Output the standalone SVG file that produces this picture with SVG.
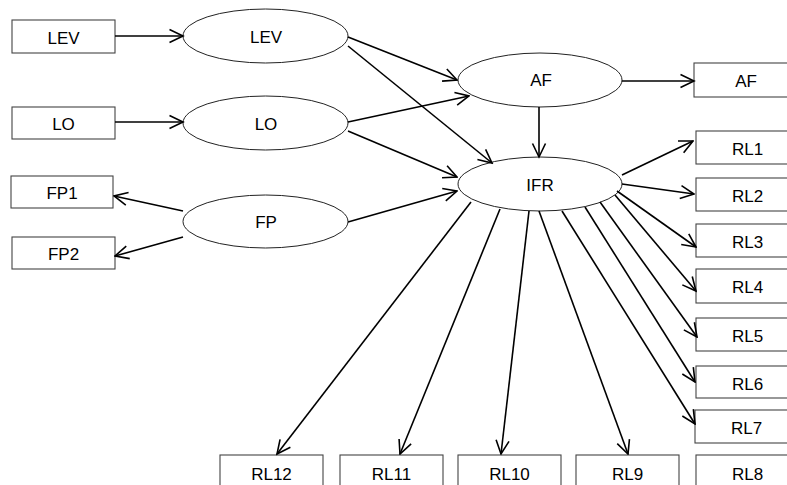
<svg xmlns="http://www.w3.org/2000/svg" width="787" height="485" viewBox="0 0 787 485">
<defs>
<marker id="ah" viewBox="0 0 16 16" refX="14.5" refY="8" markerWidth="16" markerHeight="16" markerUnits="userSpaceOnUse" orient="auto">
<path d="M1,1.5 L14.5,8 L1,14.5" fill="none" stroke="#000" stroke-width="1.6"/>
</marker>
<style>
.box{fill:#fff;stroke:#444;stroke-width:1.1}
.ell{fill:#fff;stroke:#222;stroke-width:1}
.t{font-family:"Liberation Sans",Arial,sans-serif;font-size:17px;fill:#000;text-anchor:middle}
.c{fill:none;stroke:#000;stroke-width:1.6;marker-end:url(#ah)}
</style>
</defs>
<rect width="787" height="485" fill="#fff"/>
<g id="box-LEV"><rect class="box" x="12" y="20" width="103" height="33"/><text class="t" x="63.5" y="43.5">LEV</text></g>
<g id="box-LO"><rect class="box" x="12" y="107" width="103" height="32"/><text class="t" x="63.5" y="130">LO</text></g>
<g id="box-FP1"><rect class="box" x="11" y="176" width="102" height="32"/><text class="t" x="62" y="199">FP1</text></g>
<g id="box-FP2"><rect class="box" x="12" y="237" width="103" height="32"/><text class="t" x="63.5" y="260">FP2</text></g>
<g id="ell-LEV"><ellipse class="ell" cx="265.5" cy="36" rx="82.5" ry="27"/><text class="t" x="266" y="42.5">LEV</text></g>
<g id="ell-LO"><ellipse class="ell" cx="265.5" cy="123" rx="82.5" ry="27"/><text class="t" x="266" y="129.5">LO</text></g>
<g id="ell-FP"><ellipse class="ell" cx="265.5" cy="221.5" rx="82.5" ry="26.5"/><text class="t" x="266" y="227.5">FP</text></g>
<g id="ell-AF"><ellipse class="ell" cx="540" cy="80" rx="82" ry="27"/><text class="t" x="541" y="86">AF</text></g>
<g id="ell-IFR"><ellipse class="ell" cx="540" cy="184" rx="82" ry="27"/><text class="t" x="540" y="190.5">IFR</text></g>
<g id="box-AF"><rect class="box" x="694" y="63" width="103" height="34"/><text class="t" x="746" y="86.5">AF</text></g>
<g id="box-RL1"><rect class="box" x="696" y="131" width="103" height="33"/><text class="t" x="747.5" y="154.5">RL1</text></g>
<g id="box-RL2"><rect class="box" x="696" y="178" width="103" height="33"/><text class="t" x="747.5" y="201.5">RL2</text></g>
<g id="box-RL3"><rect class="box" x="696" y="224" width="103" height="33"/><text class="t" x="747.5" y="247.5">RL3</text></g>
<g id="box-RL4"><rect class="box" x="696" y="269" width="103" height="34"/><text class="t" x="747.5" y="292.5">RL4</text></g>
<g id="box-RL5"><rect class="box" x="696" y="318" width="103" height="33"/><text class="t" x="747.5" y="341.5">RL5</text></g>
<g id="box-RL6"><rect class="box" x="696" y="366" width="103" height="32"/><text class="t" x="747.5" y="389.5">RL6</text></g>
<g id="box-RL7"><rect class="box" x="695" y="410" width="103" height="33"/><text class="t" x="746.5" y="433.5">RL7</text></g>
<g id="box-RL8"><rect class="box" x="696" y="455" width="103" height="35"/><text class="t" x="747.5" y="480">RL8</text></g>
<g id="box-RL9"><rect class="box" x="576" y="455" width="103" height="35"/><text class="t" x="627.5" y="480">RL9</text></g>
<g id="box-RL10"><rect class="box" x="458" y="455" width="103" height="35"/><text class="t" x="509.5" y="480">RL10</text></g>
<g id="box-RL11"><rect class="box" x="340" y="455" width="103" height="35"/><text class="t" x="391.5" y="480">RL11</text></g>
<g id="box-RL12"><rect class="box" x="220" y="455" width="103" height="35"/><text class="t" x="271.5" y="480">RL12</text></g>
<g id="connectors">
<line class="c" x1="115" y1="36" x2="183" y2="36"/>
<line class="c" x1="115" y1="122" x2="183" y2="122"/>
<line class="c" x1="183" y1="211" x2="114" y2="196"/>
<line class="c" x1="183" y1="237" x2="115" y2="256"/>
<line class="c" x1="348" y1="37" x2="457" y2="80"/>
<line class="c" x1="348" y1="46" x2="492" y2="163"/>
<line class="c" x1="348" y1="122" x2="469" y2="96"/>
<line class="c" x1="348" y1="131" x2="457" y2="177"/>
<line class="c" x1="348" y1="222" x2="457" y2="191"/>
<line class="c" x1="622" y1="81" x2="694" y2="81"/>
<line class="c" x1="539" y1="107" x2="539" y2="157"/>
<line class="c" x1="622" y1="175" x2="693" y2="141"/>
<line class="c" x1="622" y1="184" x2="694" y2="194"/>
<line class="c" x1="617" y1="191" x2="696" y2="247"/>
<line class="c" x1="615" y1="195" x2="696" y2="291"/>
<line class="c" x1="600" y1="202" x2="697" y2="337"/>
<line class="c" x1="585" y1="207" x2="695" y2="382"/>
<line class="c" x1="562" y1="211" x2="695" y2="424"/>
<line class="c" x1="539" y1="211" x2="628" y2="454"/>
<line class="c" x1="529" y1="211" x2="501" y2="454"/>
<line class="c" x1="500" y1="209" x2="400" y2="454"/>
<line class="c" x1="471" y1="202" x2="277" y2="454"/>
</g>
</svg>
